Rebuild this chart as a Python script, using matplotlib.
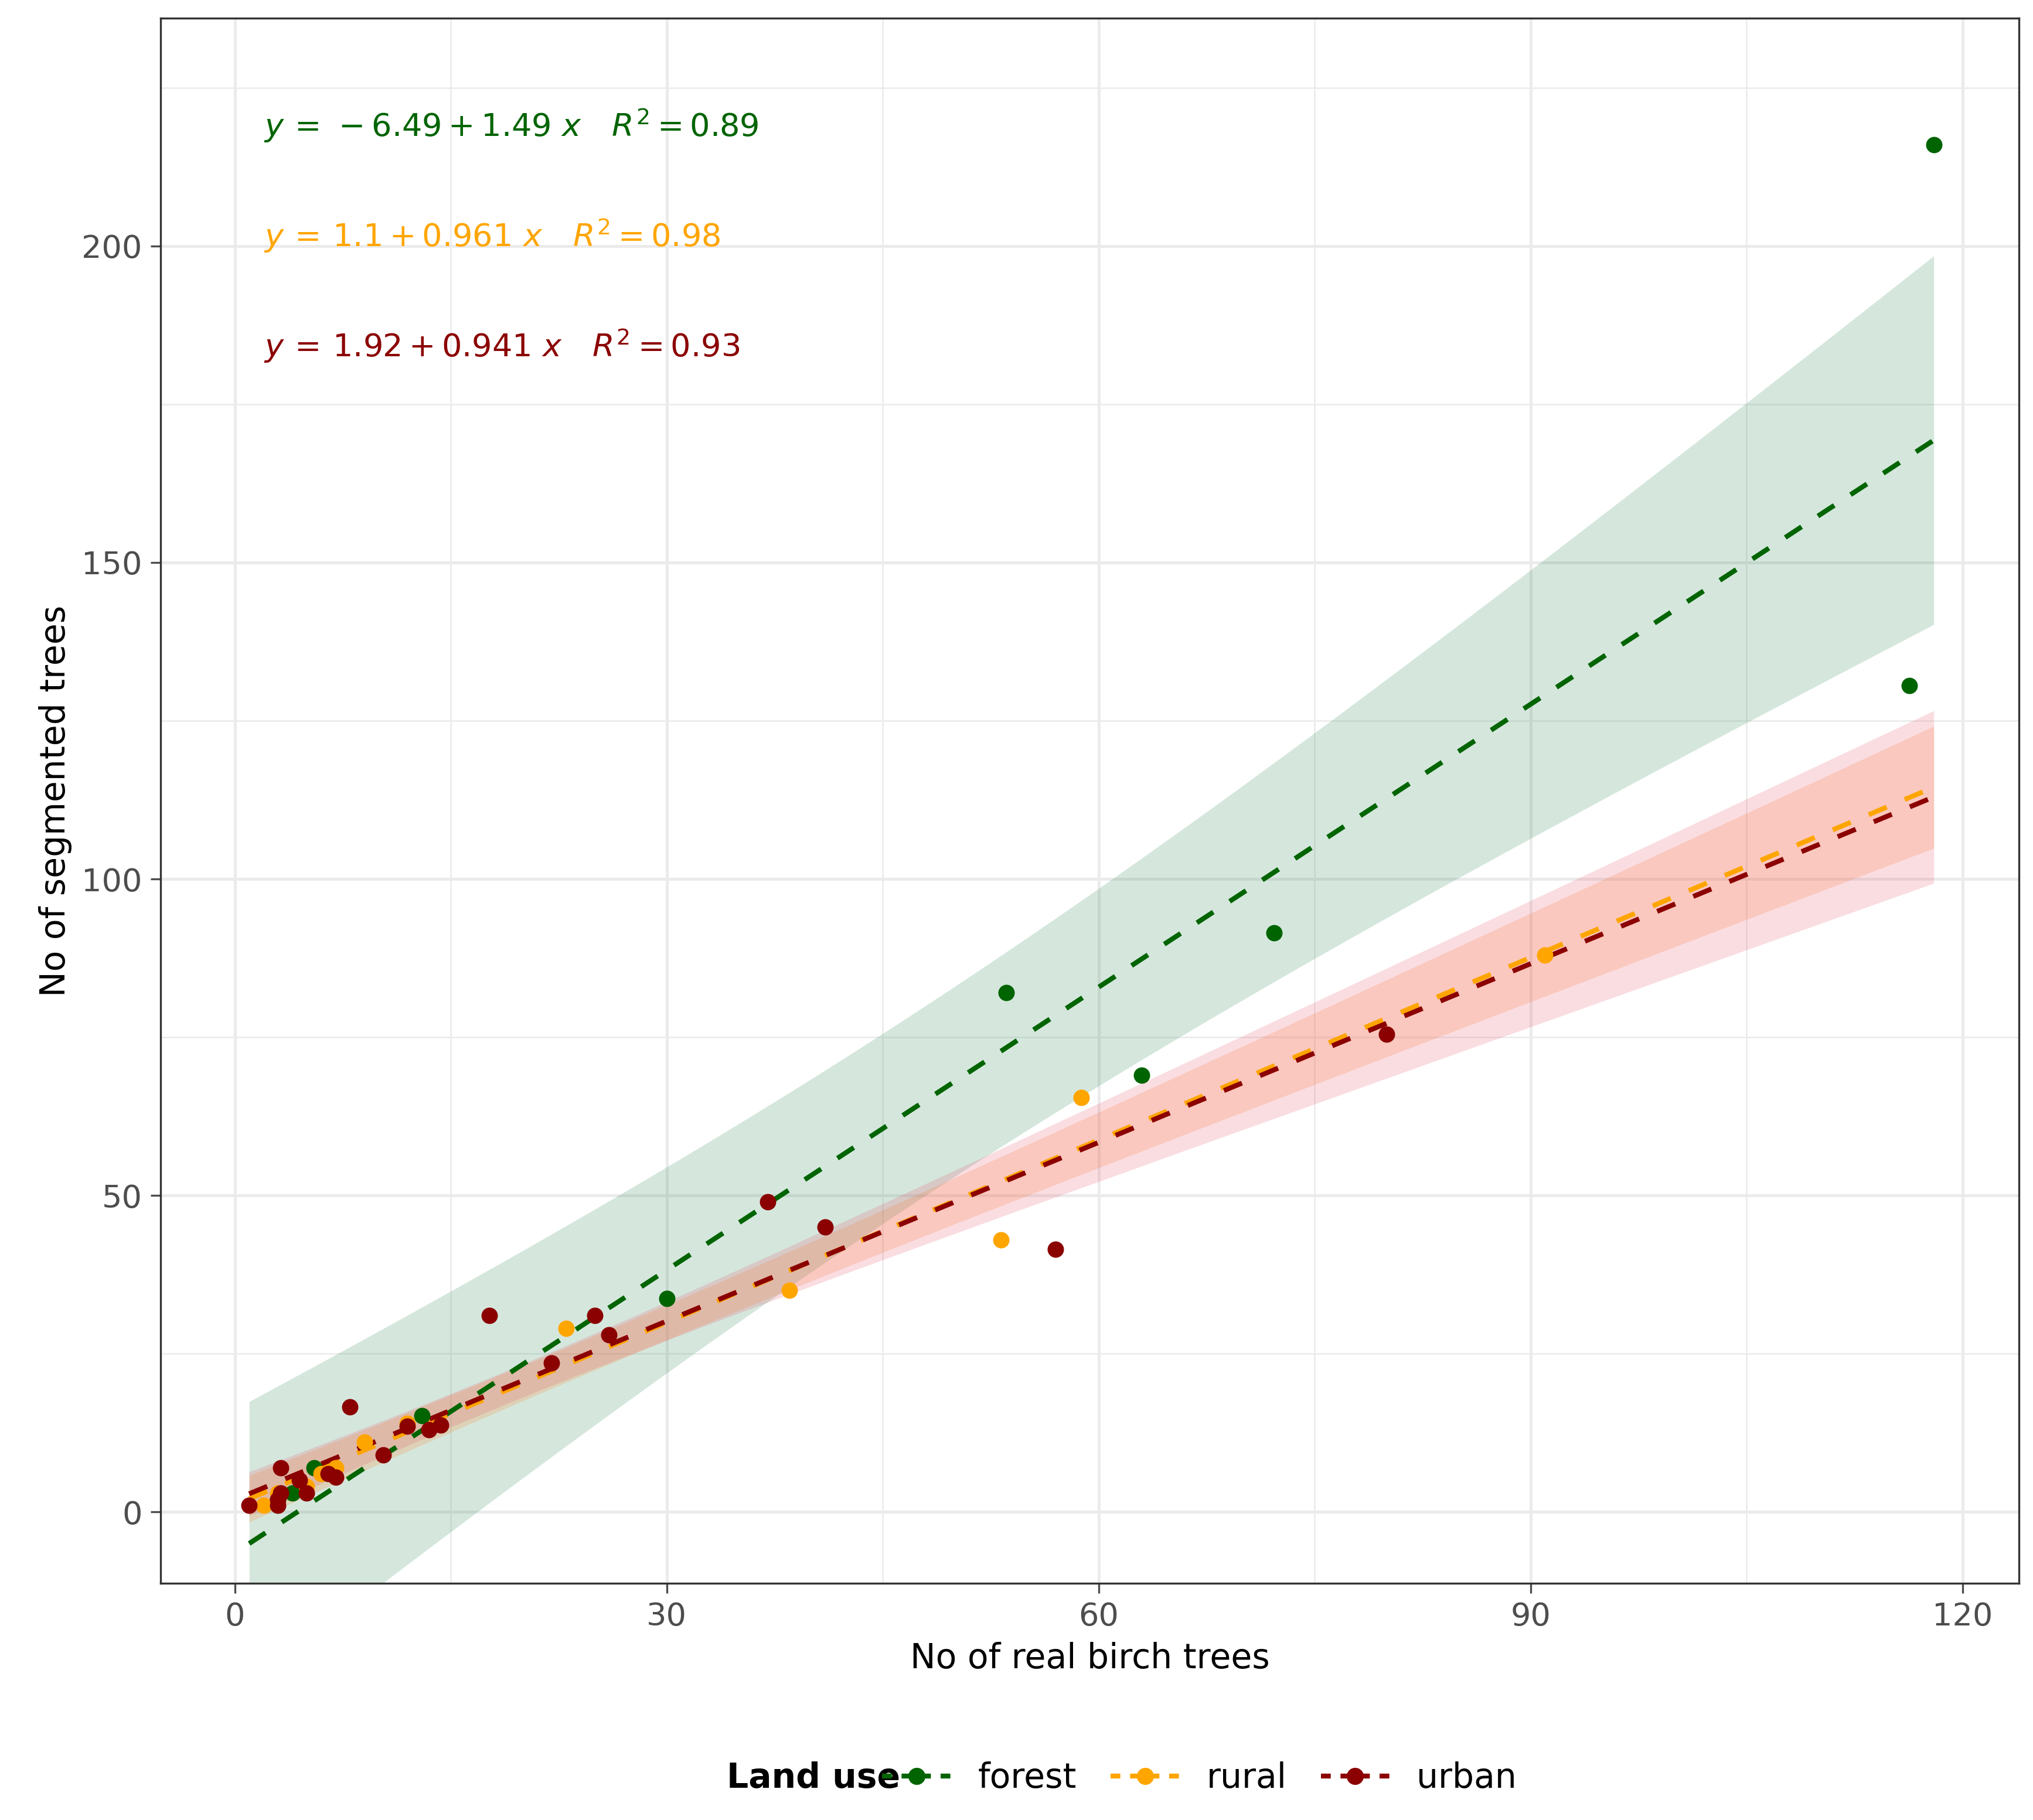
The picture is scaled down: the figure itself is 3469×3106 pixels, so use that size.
import numpy as np
import matplotlib
matplotlib.use("Agg")
import matplotlib.pyplot as plt
from matplotlib.lines import Line2D

forest_x = [118, 116.3, 72.2, 53.6, 63, 30, 13, 5.5, 4, 3]
forest_y = [216, 130.6, 91.5, 82, 69, 33.7, 15.2, 7, 3, 2]
rural_x = [58.8, 53.2, 38.5, 23, 9, 91, 2, 3, 5, 6, 12, 7]
rural_y = [65.5, 43, 35, 29, 11, 88, 1, 3, 4, 6, 14, 7]
urban_x = [80, 57, 41, 37, 17.7, 25, 26, 22, 8, 10.3, 12, 13.5, 14.3, 3.2, 3, 3, 3.2, 5, 6.5, 7, 1, 4.5]
urban_y = [75.5, 41.5, 45, 49, 31, 31, 28, 23.5, 16.6, 9, 13.5, 13, 13.7, 7, 1, 2, 3, 3, 6, 5.5, 1, 5]

groups = ["forest", "rural", "urban"]
colors = {"forest": "#006400", "rural": "#FFA500", "urban": "#8B0000"}
fills = {"forest": "#2E8B57", "rural": "#FF7F27", "urban": "#E8556B"}
intercepts = [-6.49, 1.1, 1.92]
slopes = [1.49, 0.961, 0.941]
eq_labels = [r"$y\,=\,-6.49+1.49\ x\quad R^2 = 0.89$",
             r"$y\,=\,1.1+0.961\ x\quad R^2 = 0.98$",
             r"$y\,=\,1.92+0.941\ x\quad R^2 = 0.93$"]
data = {"forest": (forest_x, forest_y), "rural": (rural_x, rural_y), "urban": (urban_x, urban_y)}

plt.rcParams["mathtext.fontset"] = "dejavusans"
fig = plt.figure(figsize=(3469/300, 3106/300), dpi=300)
ax = fig.add_axes([0.079, 0.13, 0.914, 0.86])

xs = np.linspace(1, 118, 120)
for i, g in enumerate(groups):
    x = np.array(data[g][0]); y = np.array(data[g][1])
    a, b = intercepts[i], slopes[i]
    yh = a + b * xs
    n = len(x)
    res = y - (a + b * x)
    s = np.sqrt(np.sum(res**2) / (n - 2))
    se = s * np.sqrt(1/n + (xs - x.mean())**2 / np.sum((x - x.mean())**2))
    ax.fill_between(xs, yh - 2.1*se, yh + 2.1*se, color=fills[g], alpha=0.2, lw=0, zorder=1)
for i, g in enumerate(groups):
    x = np.array(data[g][0]); y = np.array(data[g][1])
    ax.plot(xs, intercepts[i] + slopes[i]*xs, ls=(0, (4, 4)), color=colors[g], lw=2, zorder=3)
    ax.scatter(x, y, s=45, color=colors[g], zorder=4, lw=0)
    ax.text(2, 219 - i*17.4, eq_labels[i], color=colors[g], fontsize=13, va="center")

ax.set_xlim(-5.15, 123.9)
ax.set_ylim(-11.3, 236)
ax.set_xticks([0, 30, 60, 90, 120])
ax.set_yticks([0, 50, 100, 150, 200])
ax.set_xticks([15, 45, 75, 105], minor=True)
ax.set_yticks([25, 75, 125, 175, 225], minor=True)
ax.grid(True, which="major", color="#EBEBEB", lw=1.2)
ax.grid(True, which="minor", color="#EBEBEB", lw=0.6)
ax.set_axisbelow(True)
ax.tick_params(labelsize=13, colors="#4D4D4D", length=4)
ax.tick_params(which="minor", length=0)
for sp in ax.spines.values():
    sp.set_color("#333333")
ax.set_xlabel("No of real birch trees", fontsize=14)
ax.set_ylabel("No of segmented trees", fontsize=14)

handles = [Line2D([0], [0], color=colors[g], ls=(0, (2, 2)), lw=2, marker="o", markersize=6) for g in groups]
fig.text(0.40, 0.023, "Land use", fontsize=14, fontweight="bold", ha="center", va="center")
fig.legend(handles, groups, loc="center", bbox_to_anchor=(0.59, 0.023), ncol=3, frameon=False,
           fontsize=14, handlelength=2, columnspacing=1.0)
fig.savefig("out.png", dpi=300)
